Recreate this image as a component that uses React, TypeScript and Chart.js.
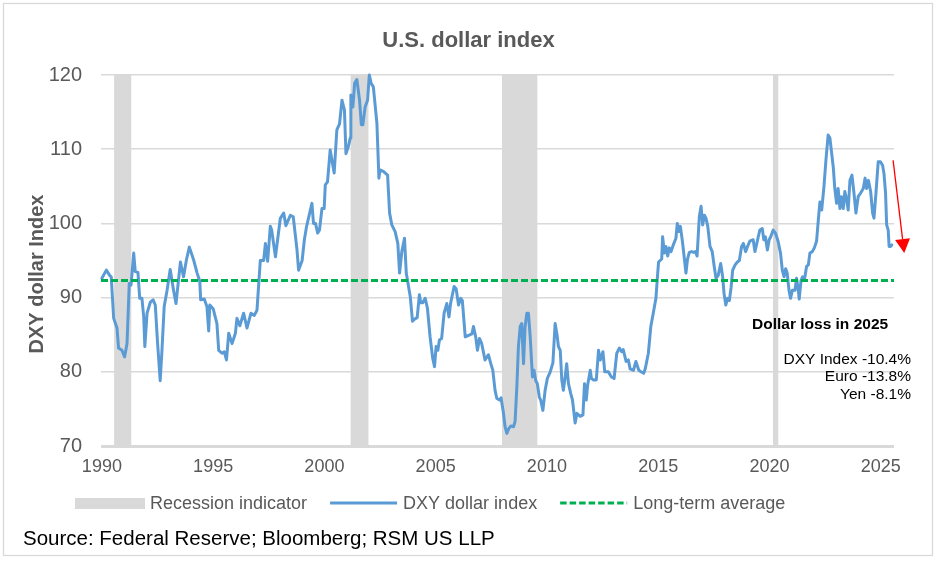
import { useEffect, useRef } from "react";
import { Chart, registerables } from "chart.js";

Chart.register(...registerables);

// Monthly DXY readings, x as fractional year
const dxyYear = [
  1990.0, 1990.2, 1990.35, 1990.42, 1990.53, 1990.68, 1990.75, 1990.9, 1991.02, 1991.13,
  1991.23, 1991.31, 1991.43, 1991.5, 1991.62, 1991.7, 1991.8, 1991.88, 1991.93, 1992.03,
  1992.18, 1992.3, 1992.4, 1992.5, 1992.62, 1992.7, 1992.8, 1992.93, 1993.07, 1993.22,
  1993.33, 1993.53, 1993.67, 1993.8, 1993.93, 1994.12, 1994.28, 1994.4, 1994.44, 1994.6,
  1994.72, 1994.8, 1994.85, 1995.0, 1995.17, 1995.25, 1995.4, 1995.5, 1995.6, 1995.7,
  1995.85, 1996.0, 1996.07, 1996.2, 1996.37, 1996.52, 1996.7, 1996.85, 1996.97, 1997.12,
  1997.27, 1997.35, 1997.45, 1997.57, 1997.63, 1997.8, 1998.02, 1998.17, 1998.27, 1998.47,
  1998.6, 1998.77, 1998.84, 1999.0, 1999.1, 1999.2, 1999.44, 1999.51, 1999.6, 1999.7,
  1999.78, 1999.89, 1999.99, 2000.04, 2000.14, 2000.26, 2000.44, 2000.56, 2000.68, 2000.79,
  2000.9, 2000.97, 2001.08, 2001.16, 2001.19, 2001.28, 2001.36, 2001.46, 2001.58, 2001.66,
  2001.73, 2001.83, 2001.94, 2002.02, 2002.1, 2002.2, 2002.36, 2002.45, 2002.5, 2002.65,
  2002.84, 2002.93, 2003.03, 2003.18, 2003.3, 2003.38, 2003.48, 2003.6, 2003.68, 2003.86,
  2003.96, 2004.05, 2004.17, 2004.27, 2004.33, 2004.42, 2004.53, 2004.63, 2004.75, 2004.87,
  2004.95, 2005.02, 2005.1, 2005.17, 2005.27, 2005.38, 2005.5, 2005.6, 2005.67, 2005.83,
  2005.92, 2006.03, 2006.13, 2006.2, 2006.33, 2006.48, 2006.63, 2006.7, 2006.8, 2006.88,
  2006.97, 2007.07, 2007.22, 2007.37, 2007.47, 2007.57, 2007.67, 2007.75, 2007.87, 2007.94,
  2008.05, 2008.12, 2008.2, 2008.28, 2008.38, 2008.5, 2008.57, 2008.65, 2008.72, 2008.8,
  2008.87, 2008.95, 2009.02, 2009.1, 2009.17, 2009.25, 2009.35, 2009.42, 2009.5, 2009.57,
  2009.66, 2009.72, 2009.82, 2009.92, 2010.02, 2010.15, 2010.27, 2010.37, 2010.45, 2010.52,
  2010.6, 2010.67, 2010.74, 2010.82, 2010.89, 2010.97, 2011.07, 2011.15, 2011.27, 2011.35,
  2011.5, 2011.62, 2011.69, 2011.77, 2011.83, 2011.95, 2012.0, 2012.1, 2012.22, 2012.32,
  2012.4, 2012.52, 2012.6, 2012.76, 2012.9, 2013.02, 2013.14, 2013.26, 2013.36, 2013.43,
  2013.56, 2013.66, 2013.74, 2013.89, 2014.0, 2014.13, 2014.23, 2014.35, 2014.42, 2014.56,
  2014.67, 2014.78, 2014.9, 2014.98, 2015.02, 2015.16, 2015.2, 2015.28, 2015.35, 2015.43,
  2015.5, 2015.58, 2015.68, 2015.8, 2015.86, 2015.94, 2016.0, 2016.09, 2016.18, 2016.25,
  2016.32, 2016.4, 2016.5, 2016.6, 2016.68, 2016.75, 2016.85, 2016.93, 2017.0, 2017.08,
  2017.15, 2017.23, 2017.33, 2017.43, 2017.52, 2017.6, 2017.7, 2017.81, 2017.9, 2017.96,
  2018.04, 2018.12, 2018.2, 2018.28, 2018.35, 2018.46, 2018.56, 2018.65, 2018.75, 2018.83,
  2018.93, 2019.02, 2019.12, 2019.27, 2019.35, 2019.42, 2019.5, 2019.57, 2019.68, 2019.75,
  2019.82, 2019.91, 2019.99, 2020.06, 2020.17, 2020.27, 2020.39, 2020.5, 2020.58, 2020.66,
  2020.73, 2020.8, 2020.88, 2020.95, 2021.03, 2021.15, 2021.22, 2021.3, 2021.34, 2021.42,
  2021.49, 2021.57, 2021.67, 2021.75, 2021.82, 2021.93, 2022.02, 2022.12, 2022.2, 2022.27,
  2022.35, 2022.45, 2022.54, 2022.64, 2022.72, 2022.8, 2022.87, 2022.94, 2023.02, 2023.09,
  2023.17, 2023.24, 2023.32, 2023.39, 2023.47, 2023.54, 2023.62, 2023.71, 2023.8, 2023.89,
  2023.99, 2024.1, 2024.22, 2024.3, 2024.37, 2024.45, 2024.55, 2024.64, 2024.7, 2024.79,
  2024.89, 2024.99, 2025.09, 2025.15, 2025.22, 2025.27, 2025.34, 2025.38, 2025.44, 2025.5,
];

const dxyValue = [
  92.6, 93.7, 93.0, 92.8, 87.2, 85.9, 83.2, 82.9, 82.0, 83.8,
  91.9, 91.7, 96.0, 93.5, 93.4, 89.9, 89.9, 87.4, 83.4, 87.9,
  89.4, 89.7, 89.0, 84.0, 78.8, 82.9, 88.8, 91.0, 93.8, 91.0,
  89.2, 94.8, 92.8, 95.1, 96.8, 95.1, 93.3, 92.2, 89.7, 89.8,
  88.8, 85.5, 89.0, 88.5, 86.5, 82.9, 82.5, 82.7, 81.6, 85.2,
  83.8, 85.2, 87.2, 86.2, 87.9, 85.9, 87.9, 87.6, 88.3, 95.0,
  95.0, 97.3, 94.9, 99.6, 99.1, 95.5, 100.7, 101.4, 99.7, 101.1,
  100.9, 96.4, 93.7, 95.0, 97.8, 99.6, 102.7, 100.0, 100.0, 98.7,
  99.1, 102.0, 102.0, 105.2, 105.6, 109.9, 106.8, 112.6, 113.4, 116.6,
  115.3, 109.4, 110.4, 111.5, 117.3, 115.7, 118.9, 119.4, 116.6, 113.3,
  113.3, 115.7, 116.6, 120.0, 118.9, 118.4, 113.5, 106.1, 107.2, 107.0,
  106.5, 101.4, 99.8, 98.9, 97.3, 93.3, 96.2, 98.0, 93.3, 90.1,
  86.8, 87.1, 87.3, 90.4, 89.3, 89.3, 89.9, 88.6, 84.7, 81.8,
  80.7, 83.4, 82.9, 84.3, 84.5, 87.9, 89.2, 87.4, 89.2, 91.5,
  91.2, 89.0, 89.9, 89.6, 84.7, 84.9, 85.1, 86.1, 84.7, 82.9,
  84.5, 83.8, 81.6, 82.3, 81.2, 80.2, 77.5, 76.4, 76.2, 76.5,
  74.4, 72.6, 71.7, 72.3, 72.7, 72.6, 73.3, 78.0, 83.4, 86.1,
  86.5, 81.1, 86.1, 87.9, 87.9, 84.7, 79.3, 80.2, 78.8, 78.4,
  76.6, 76.2, 74.8, 77.5, 79.1, 80.0, 81.2, 86.5, 85.1, 83.4,
  82.9, 78.9, 77.5, 79.3, 81.1, 78.4, 77.1, 76.2, 73.1, 74.4,
  74.0, 74.2, 78.4, 76.2, 78.2, 80.2, 79.1, 78.9, 78.9, 82.9,
  81.6, 82.7, 80.0, 80.0, 79.3, 79.1, 82.5, 83.2, 82.7, 83.0,
  81.4, 81.6, 80.4, 80.2, 81.4, 80.2, 80.0, 79.8, 80.4, 82.5,
  86.1, 87.9, 89.9, 93.3, 94.8, 95.2, 98.2, 96.0, 96.9, 95.6,
  96.7, 96.2, 97.1, 98.0, 100.0, 98.9, 99.6, 97.6, 95.2, 93.3,
  95.2, 96.1, 96.2, 96.1, 96.2, 95.6, 100.9, 102.3, 99.8, 101.1,
  100.7, 99.6, 96.9, 96.2, 94.2, 92.6, 93.0, 94.6, 92.8, 90.6,
  89.0, 89.9, 89.6, 91.4, 93.7, 94.4, 94.8, 95.0, 96.9, 97.3,
  96.2, 96.9, 97.6, 97.8, 96.2, 97.1, 98.2, 99.1, 99.3, 97.8,
  98.2, 96.4, 97.8, 98.2, 99.1, 98.7, 97.6, 96.0, 93.7, 92.8,
  93.9, 93.3, 91.0, 89.9, 91.0, 91.0, 92.6, 91.0, 89.8, 92.3,
  92.8, 92.3, 94.2, 94.4, 96.0, 96.2, 96.7, 97.6, 100.5, 102.9,
  101.8, 104.9, 108.5, 111.9, 111.5, 109.4, 107.6, 104.7, 102.7, 104.7,
  102.0, 103.6, 102.0, 104.3, 103.2, 101.8, 105.8, 106.5, 104.1, 101.4,
  103.6, 104.1, 104.7, 106.1, 104.7, 105.8, 104.3, 101.4, 100.7, 104.1,
  108.3, 108.3, 107.8, 106.7, 104.1, 99.8, 99.1, 96.9, 96.9, 97.1,
];

// NBER recessions (fractional-year start / end)
const recessionStart = [1990.55, 2001.18, 2007.98, 2020.16];
const recessionEnd = [1991.32, 2001.98, 2009.57, 2020.4];

const longTermAverage = 92.3;

const xMin = 1989.96;
const xMax = 2025.6;
const xTickYears = [1990, 1995, 2000, 2005, 2010, 2015, 2020, 2025];
const yMin = 70;
const yMax = 120;
const yStep = 10;

const chartTitle = "U.S. dollar index";
const yAxisTitle = "DXY dollar Index";
const legendLabels = ["Recession indicator", "DXY dollar index", "Long-term average"];
const sourceNote = "Source: Federal Reserve; Bloomberg; RSM US LLP";
const lossHeading = "Dollar loss in 2025";
const lossLines = ["DXY Index -10.4%", "Euro -13.8%", "Yen -8.1%"];

// 2025 decline arrow, in (year, index) units
const arrowFrom = [2025.56, 108.5];
const arrowTo = [2026.06, 96.0];

const FONT = "Arial, 'Liberation Sans', sans-serif";
const GREY_TEXT = "#595959";
const RECESSION_GREY = "#d9d9d9";
const DXY_BLUE = "#5b9bd5";
const AVG_GREEN = "#00b050";

const decorations = {
  id: "decorations",
  beforeDatasetsDraw(chart: any) {
    const { ctx, chartArea, scales } = chart;
    const x = scales.x;
    ctx.save();
    ctx.fillStyle = RECESSION_GREY;
    recessionStart.forEach((s, i) => {
      const x0 = x.getPixelForValue(s);
      const x1 = x.getPixelForValue(recessionEnd[i]);
      ctx.fillRect(x0, chartArea.top, x1 - x0, chartArea.bottom - chartArea.top);
    });
    ctx.restore();
  },
  afterDraw(chart: any) {
    const { ctx, scales } = chart;
    const x = scales.x;
    const y = scales.y;
    ctx.save();

    // outer frame
    ctx.strokeStyle = "#d9d9d9";
    ctx.lineWidth = 1.3;
    ctx.strokeRect(3.5, 3.5, 929, 552);

    // title
    ctx.fillStyle = GREY_TEXT;
    ctx.font = `bold 22px ${FONT}`;
    ctx.textAlign = "center";
    ctx.textBaseline = "alphabetic";
    ctx.fillText(chartTitle, 468.5, 46.5);

    // y-axis title
    ctx.save();
    ctx.translate(42.5, 274);
    ctx.rotate(-Math.PI / 2);
    ctx.font = `bold 20px ${FONT}`;
    ctx.textAlign = "center";
    ctx.fillText(yAxisTitle, 0, 0);
    ctx.restore();

    // legend
    const legendY = 503;
    let cx = 75;
    ctx.font = `18px ${FONT}`;
    ctx.textAlign = "left";
    ctx.textBaseline = "alphabetic";
    legendLabels.forEach((label, i) => {
      if (i === 0) {
        ctx.fillStyle = RECESSION_GREY;
        ctx.fillRect(cx, legendY - 5, 70, 11);
        cx += 75;
      } else {
        ctx.beginPath();
        ctx.lineWidth = 3;
        ctx.strokeStyle = i === 1 ? DXY_BLUE : AVG_GREEN;
        ctx.setLineDash(i === 1 ? [] : [6.5, 3]);
        ctx.moveTo(cx, legendY);
        ctx.lineTo(cx + 67, legendY);
        ctx.stroke();
        ctx.setLineDash([]);
        cx += 73;
      }
      ctx.fillStyle = GREY_TEXT;
      ctx.fillText(label, cx, legendY + 6);
      cx += ctx.measureText(label).width + 23;
    });

    // source
    ctx.fillStyle = "#000000";
    ctx.font = `20.5px ${FONT}`;
    ctx.fillText(sourceNote, 23, 545);

    // 2025 annotation
    ctx.font = `bold 15.5px ${FONT}`;
    ctx.textAlign = "left";
    ctx.fillText(lossHeading, 752, 328.5);
    ctx.font = `15.5px ${FONT}`;
    ctx.textAlign = "right";
    lossLines.forEach((line, i) => {
      ctx.fillText(line, 911, 363.5 + i * 17.5);
    });

    // decline arrow
    const p0 = { x: x.getPixelForValue(arrowFrom[0]), y: y.getPixelForValue(arrowFrom[1]) };
    const p1 = { x: x.getPixelForValue(arrowTo[0]), y: y.getPixelForValue(arrowTo[1]) };
    const ang = Math.atan2(p1.y - p0.y, p1.x - p0.x);
    const headLen = 14;
    const headHalf = 7.5;
    const bx = p1.x - headLen * Math.cos(ang);
    const by = p1.y - headLen * Math.sin(ang);
    ctx.strokeStyle = "#ff0000";
    ctx.fillStyle = "#ff0000";
    ctx.lineWidth = 1.3;
    ctx.beginPath();
    ctx.moveTo(p0.x, p0.y);
    ctx.lineTo(bx, by);
    ctx.stroke();
    ctx.beginPath();
    ctx.moveTo(p1.x, p1.y);
    ctx.lineTo(bx + headHalf * Math.sin(ang), by - headHalf * Math.cos(ang));
    ctx.lineTo(bx - headHalf * Math.sin(ang), by + headHalf * Math.cos(ang));
    ctx.closePath();
    ctx.fill();

    ctx.restore();
  },
};

export default function App() {
  const canvasRef = useRef<HTMLCanvasElement | null>(null);

  useEffect(() => {
    const canvas = canvasRef.current;
    if (!canvas) return;
    Chart.defaults.font.family = FONT;

    const chart = new Chart(canvas, {
      type: "line",
      data: {
        datasets: [
          {
            label: legendLabels[2],
            data: [
              { x: xMin, y: longTermAverage },
              { x: xMax, y: longTermAverage },
            ],
            borderColor: AVG_GREEN,
            borderWidth: 3,
            borderDash: [7, 3],
            pointRadius: 0,
            order: 0,
            clip: false as any,
          },
          {
            label: legendLabels[1],
            data: dxyYear.map((t, i) => ({ x: t, y: dxyValue[i] })),
            borderColor: DXY_BLUE,
            borderWidth: 3,
            borderJoinStyle: "round",
            borderCapStyle: "round",
            pointRadius: 0,
            tension: 0,
            order: 1,
            clip: false as any,
          },
        ],
      },
      options: {
        responsive: false,
        animation: false,
        devicePixelRatio: 1,
        layout: { padding: { top: 75, right: 42, bottom: 0, left: 0 } },
        plugins: {
          legend: { display: false },
          title: { display: false },
          tooltip: { enabled: false },
        },
        scales: {
          x: {
            type: "linear",
            min: xMin,
            max: xMax,
            afterBuildTicks: (scale: any) => {
              scale.ticks = xTickYears.map((v) => ({ value: v }));
            },
            afterFit: (scale: any) => {
              scale.height = 116;
            },
            ticks: {
              autoSkip: false,
              maxRotation: 0,
              padding: 10,
              color: GREY_TEXT,
              font: { size: 18, family: FONT },
              callback: (v: any) => String(v),
            },
            grid: { display: false, drawTicks: false },
            border: { display: false },
          },
          y: {
            min: yMin,
            max: yMax,
            afterFit: (scale: any) => {
              scale.width = 101;
            },
            ticks: {
              stepSize: yStep,
              padding: 19,
              color: GREY_TEXT,
              font: { size: 20, family: FONT },
              callback: (v: any) => String(v),
            },
            grid: {
              color: "#d9d9d9",
              lineWidth: (c: any) => (c.tick && c.tick.value === yMin ? 3 : 1.5),
              drawTicks: false,
            },
            border: { display: false },
          },
        },
      },
      plugins: [decorations],
    });

    return () => chart.destroy();
  }, []);

  return (
    <div style={{ position: "absolute", left: 0, top: 0, width: 936, height: 562, background: "#ffffff" }}>
      <canvas ref={canvasRef} width={936} height={562} />
    </div>
  );
}
